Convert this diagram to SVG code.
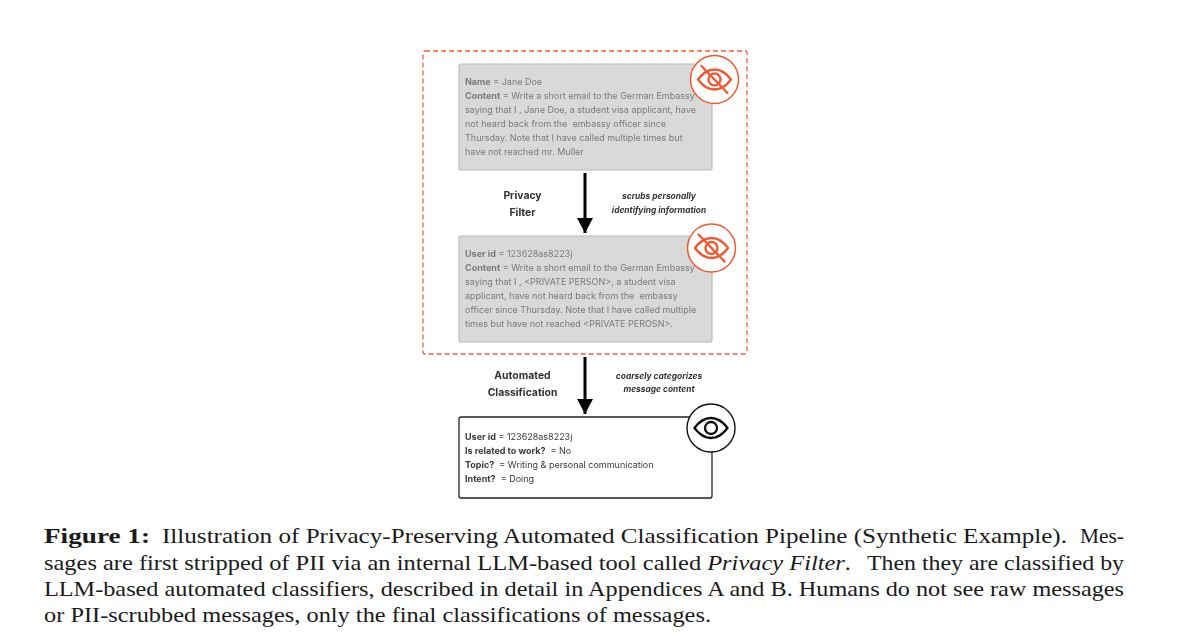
<svg xmlns="http://www.w3.org/2000/svg" width="1200" height="636" viewBox="0 0 1200 636">
<style>
.d{filter:url(#soft)}
.box{fill:#d9d9d9;stroke:#bcbcbc;stroke-width:1.2}
.t{font-family:Inter,"Liberation Sans",sans-serif;font-size:9px;fill:#7a7a7a;white-space:pre}
.k{font-family:Inter,"Liberation Sans",sans-serif;font-size:9px;fill:#3a3a3a;white-space:pre}
.lab{font-family:Inter,"Liberation Sans",sans-serif;font-size:10.4px;font-weight:700;fill:#333;text-anchor:middle}
.note{font-family:Inter,"Liberation Sans",sans-serif;font-size:8.4px;font-weight:700;font-style:italic;fill:#333;text-anchor:middle}
.cap{font-family:"Liberation Serif","Times New Roman",serif;font-size:20.6px;fill:#1a1a1a}
.ico{fill:none;stroke:#ef5a32;stroke-width:2.4;stroke-linecap:round;stroke-linejoin:round}
.ring{fill:#fff;stroke:#ef5a32;stroke-width:1.5}
.ico2{fill:none;stroke:#111;stroke-width:2.3}
</style>
<defs>
<filter id="soft" x="-5%" y="-5%" width="110%" height="110%"><feGaussianBlur stdDeviation="0.35"/></filter>
<marker id="ah" markerUnits="userSpaceOnUse" markerWidth="15" markerHeight="16" refX="15" refY="8" orient="auto" viewBox="0 0 15 16"><path d="M0 0L15 8L0 16Z" fill="#000"/></marker>
<g id="eye">
<path d="M-16.5 0C-11 -7.5 -5 -10 0 -10C5 -10 11 -7.5 16.5 0C11 7.5 5 10 0 10C-5 10 -11 7.5 -16.5 0Z"/>
<circle r="6"/>
</g>
</defs>
<g class="d">
<rect id="privacy-boundary" x="423" y="51" width="324" height="303" rx="2" fill="none" stroke="#f0603c" stroke-width="1.3" stroke-dasharray="5 3"/>
<g id="connectors">
<line x1="585" y1="173" x2="585" y2="233" stroke="#000" stroke-width="3" marker-end="url(#ah)"/>
<line x1="585" y1="357" x2="585" y2="414" stroke="#000" stroke-width="3" marker-end="url(#ah)"/>
</g>
<g id="raw-message">
<rect class="box" x="459" y="64" width="253" height="106" rx="2"/>
<text class="t" x="465" y="85"><tspan font-weight="700">Name</tspan> = Jane Doe</text>
<text class="t" x="465" y="99"><tspan font-weight="700">Content</tspan> = Write a short email to the German Embassy</text>
<text class="t" x="465" y="113">saying that I , Jane Doe, a student visa applicant, have</text>
<text class="t" x="465" y="127">not heard back from the  embassy officer since</text>
<text class="t" x="465" y="141">Thursday. Note that I have called multiple times but</text>
<text class="t" x="465" y="155">have not reached mr. Muller</text>
<g id="icon-hidden-1" transform="translate(714.5 79.5)">
<circle class="ring" r="24"/>
<use href="#eye" class="ico"/>
<line class="ico" x1="-13" y1="-13.5" x2="13" y2="13.5"/>
</g>
</g>
<g id="scrubbed-message">
<rect class="box" x="459" y="236" width="253" height="106" rx="2"/>
<text class="t" x="465" y="257"><tspan font-weight="700">User id</tspan> = 123628as8223j</text>
<text class="t" x="465" y="271"><tspan font-weight="700">Content</tspan> = Write a short email to the German Embassy</text>
<text class="t" x="465" y="285">saying that I , &lt;PRIVATE PERSON&gt;, a student visa</text>
<text class="t" x="465" y="299">applicant, have not heard back from the  embassy</text>
<text class="t" x="465" y="313">officer since Thursday. Note that I have called multiple</text>
<text class="t" x="465" y="327">times but have not reached &lt;PRIVATE PEROSN&gt;.</text>
<g id="icon-hidden-2" transform="translate(711.5 248)">
<circle class="ring" r="24"/>
<use href="#eye" class="ico"/>
<line class="ico" x1="-13" y1="-13.5" x2="13" y2="13.5"/>
</g>
</g>
<g id="classification">
<rect x="459" y="417" width="253" height="81" rx="2" fill="#fff" stroke="#222" stroke-width="1.3"/>
<text class="k" x="465" y="440"><tspan font-weight="700">User id</tspan> = 123628as8223j</text>
<text class="k" x="465" y="454"><tspan font-weight="700">Is related to work?</tspan>  = No</text>
<text class="k" x="465" y="468"><tspan font-weight="700">Topic?</tspan>  = Writing &amp; personal communication</text>
<text class="k" x="465" y="482"><tspan font-weight="700">Intent?</tspan>  = Doing</text>
<g id="icon-visible" transform="translate(711 428)">
<circle r="24" fill="#fff" stroke="#111" stroke-width="1.4"/>
<use href="#eye" class="ico2"/>
</g>
</g>
<g id="labels">
<text class="lab" x="522.5" y="199">Privacy</text>
<text class="lab" x="522.5" y="216">Filter</text>
<text class="note" x="659" y="199">scrubs personally</text>
<text class="note" x="659" y="213">identifying information</text>
<text class="lab" x="522.5" y="379">Automated</text>
<text class="lab" x="522.5" y="396">Classification</text>
<text class="note" x="659" y="379">coarsely categorizes</text>
<text class="note" x="659" y="392">message content</text>
</g>
</g>
<g id="caption">
<text class="cap" x="44" y="543" textLength="106" lengthAdjust="spacingAndGlyphs" font-weight="700">Figure 1:</text>
<text class="cap" x="162" y="543" textLength="905" lengthAdjust="spacingAndGlyphs">Illustration of Privacy-Preserving Automated Classification Pipeline (Synthetic Example).</text>
<text class="cap" x="1080" y="543" textLength="44" lengthAdjust="spacingAndGlyphs">Mes-</text>
<text class="cap" x="44" y="570" textLength="807" lengthAdjust="spacingAndGlyphs">sages are first stripped of PII via an internal LLM-based tool called <tspan font-style="italic">Privacy Filter</tspan>.</text>
<text class="cap" x="867" y="570" textLength="257" lengthAdjust="spacingAndGlyphs">Then they are classified by</text>
<text class="cap" x="44" y="596" textLength="1080" lengthAdjust="spacingAndGlyphs">LLM-based automated classifiers, described in detail in Appendices A and B. Humans do not see raw messages</text>
<text class="cap" x="44" y="622" textLength="667" lengthAdjust="spacingAndGlyphs">or PII-scrubbed messages, only the final classifications of messages.</text>
</g>
</svg>
